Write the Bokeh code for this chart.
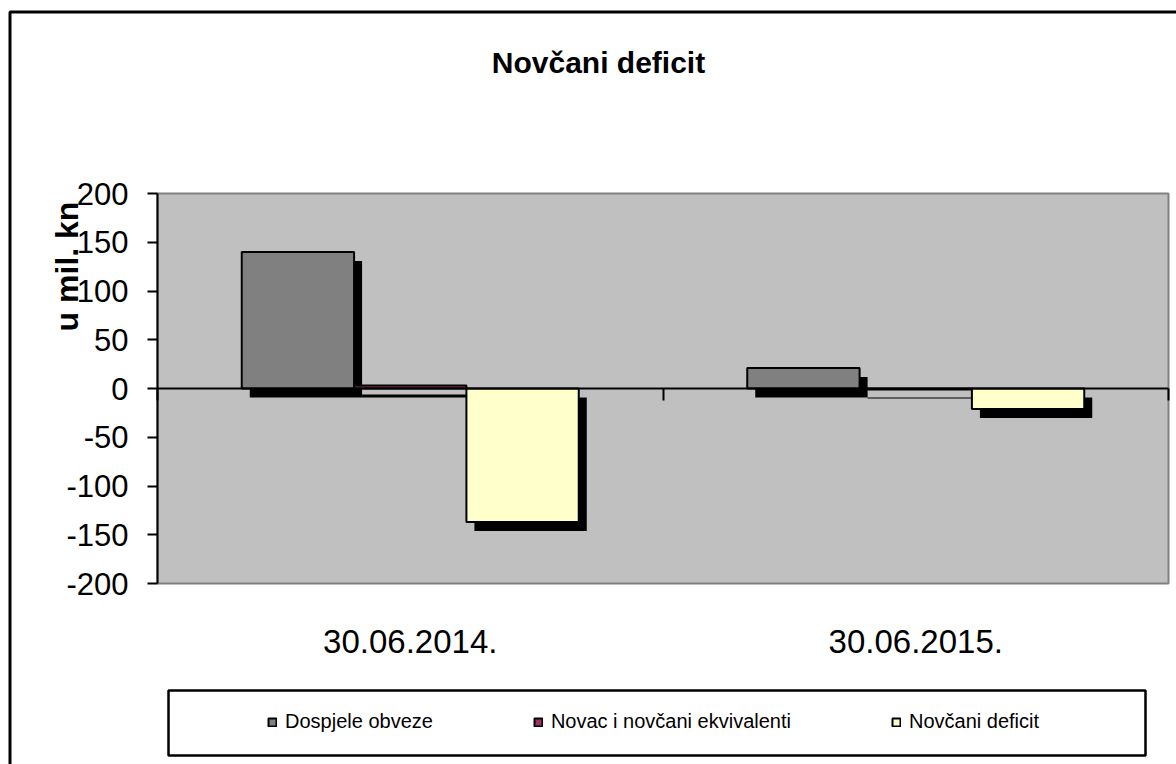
import math
from bokeh.plotting import figure
from bokeh.models import (Range1d, FixedTicker, LinearAxis, Legend, LegendItem,
                          Label, BoxAnnotation)
from bokeh.embed import file_html
from bokeh.resources import INLINE

# ---- data ----
categories = ["30.06.2014.", "30.06.2015."]
series_names = ["Dospjele obveze", "Novac i novčani ekvivalenti", "Novčani deficit"]
dospjele_obveze = [140, 21]
novac_ekvivalenti = [3, -1]
novcani_deficit = [-137, -21]
y_ticks = [-200, -150, -100, -50, 0, 50, 100, 150, 200]
title_text = "Novčani deficit"
y_axis_title = "u mil. kn"

# ---- style / layout ----
colors = ["#808080", "#993366", "#FFFFCC"]
FONT = "Liberation Sans"
W, H = 1176, 764
ML, MR, MT, MB = 157, 8, 193, 181          # plot-area position on the canvas
FW = W - ML - MR
FH = H - MT - MB

ncat = len(categories)
ymin, ymax = y_ticks[0], y_ticks[-1]
PX_X = FW / ncat
PX_Y = FH / (ymax - ymin)
x_start = -ML / PX_X
x_end = ncat + MR / PX_X
y_end = ymax + MT / PX_Y
y_start = ymin - MB / PX_Y


def px2x(px):
    return x_start + px / PX_X


def py2y(py):
    return y_end - py / PX_Y


p = figure(width=W, height=H, output_backend="svg", toolbar_location=None,
           x_range=Range1d(x_start, x_end), y_range=Range1d(y_start, y_end),
           x_axis_location=None, y_axis_location=None, min_border=0)
p.title = None
p.background_fill_color = "white"
p.border_fill_color = "white"
p.outline_line_color = None
p.xgrid.visible = False
p.ygrid.visible = False

# plot area
p.add_layout(BoxAnnotation(left=0, right=ncat, bottom=ymin, top=ymax,
                           fill_color="#C0C0C0", fill_alpha=1,
                           line_color="#808080", line_alpha=1, line_width=2,
                           level="underlay"))

# y axis at the left edge of the plot area
ya = LinearAxis(fixed_location=0, bounds=(ymin, ymax),
                ticker=FixedTicker(ticks=y_ticks),
                major_label_overrides={t: str(t) for t in y_ticks},
                major_tick_out=10, major_tick_in=0,
                minor_tick_line_color=None,
                axis_line_width=2, major_tick_line_width=2,
                major_label_standoff=19,
                major_label_text_font=FONT, major_label_text_font_size="31px",
                major_label_text_color="black")
p.add_layout(ya, "left")

# category axis crossing at zero; labels pushed down under the plot area
centers = [i + 0.5 for i in range(ncat)]
xa = LinearAxis(fixed_location=0, bounds=(0, ncat),
                ticker=FixedTicker(ticks=centers, minor_ticks=list(range(ncat + 1))),
                major_label_overrides={c: lab for c, lab in zip(centers, categories)},
                major_tick_line_color=None, major_tick_out=0, major_tick_in=0,
                minor_tick_out=12, minor_tick_in=0, minor_tick_line_width=2,
                minor_tick_line_color="black",
                axis_line_width=2, axis_line_color="black",
                major_label_standoff=229,
                major_label_text_font=FONT, major_label_text_font_size="33px",
                major_label_text_color="black")
p.add_layout(xa, "below")

# bars with shadows
bar_w = 1 / 4.5
offsets = [-bar_w, 0, bar_w]
values = [dospjele_obveze, novac_ekvivalenti, novcani_deficit]
dx = 8 / PX_X
dy = 9 / PX_Y

for off, vals in zip(offsets, values):
    xs = [c + off + dx for c in centers]
    p.vbar(x=xs, width=bar_w, bottom=-dy, top=[v - dy for v in vals],
           fill_color="black", line_color=None)

renderers = []
for off, vals, col in zip(offsets, values, colors):
    xs = [c + off for c in centers]
    r = p.vbar(x=xs, width=bar_w, bottom=0, top=vals,
               fill_color=col, line_color="black", line_width=2)
    renderers.append(r)

# legend box and legend
p.add_layout(BoxAnnotation(left=px2x(168), right=px2x(1145), top=py2y(690), bottom=py2y(755),
                           fill_alpha=0, fill_color=None,
                           line_color="black", line_alpha=1, line_width=2.5))
legend = Legend(items=[LegendItem(label=n, renderers=[r]) for n, r in zip(series_names, renderers)],
                orientation="horizontal", location=(267, H - 733),
                padding=0, margin=0, spacing=100, glyph_width=10, glyph_height=10,
                label_standoff=8, label_height=20,
                label_text_font=FONT, label_text_font_size="20px",
                label_text_color="black",
                border_line_alpha=0, background_fill_alpha=0)
p.add_layout(legend, "center")

# outer chart border
p.add_layout(BoxAnnotation(left=px2x(9.5), right=px2x(W + 30), top=py2y(11.5), bottom=py2y(H + 30),
                           fill_alpha=0, fill_color=None,
                           line_color="black", line_alpha=1, line_width=3))

# title and y axis title
p.add_layout(Label(x=px2x(598), y=py2y(62),
                   text=title_text, text_font=FONT, text_font_size="30px",
                   text_font_style="bold", text_align="center",
                   text_baseline="alphabetic", text_color="black"))
p.add_layout(Label(x=px2x(66), y=py2y(266),
                   text=y_axis_title, angle=math.pi / 2, text_font=FONT,
                   text_font_size="32px", text_font_style="bold",
                   text_align="center", text_baseline="middle",
                   text_color="black"))

open("out.html", "w").write(file_html(p, INLINE))
